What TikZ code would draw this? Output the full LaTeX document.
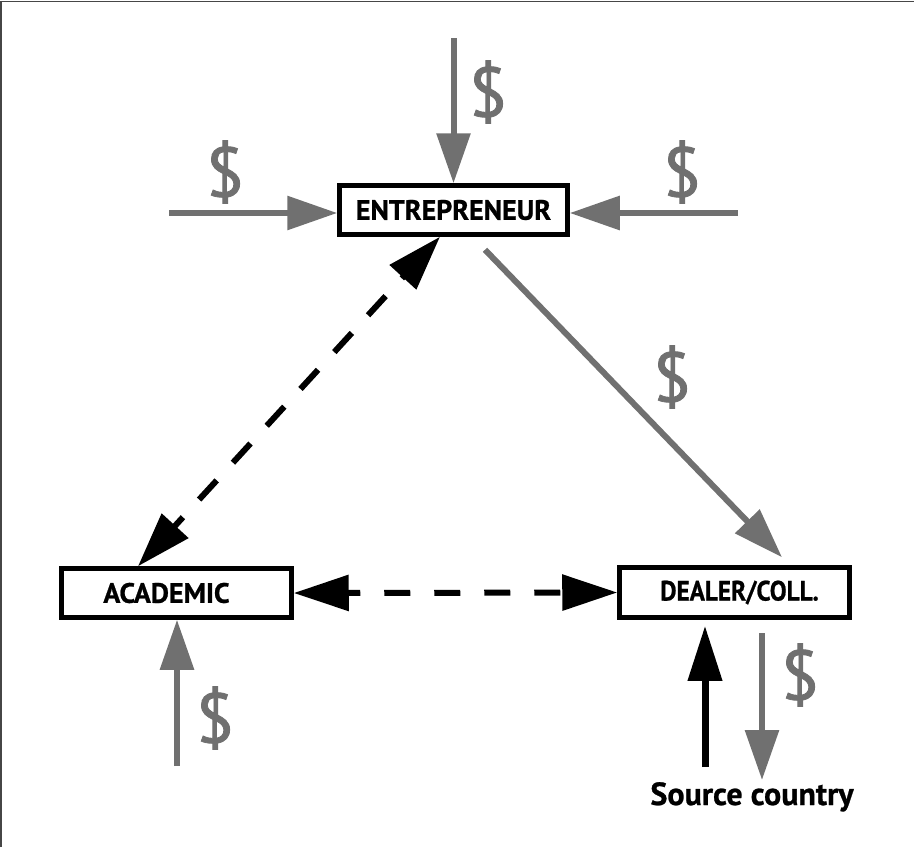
\documentclass[tikz,border=0pt]{standalone}
\usepackage{fontspec}
\usepackage{graphicx}
\setmainfont{PT Sans}
\newfontfamily\moneyfont[FakeBold=1.2]{PT Sans}
\newfontfamily\heavyfont[BoldFeatures={FakeBold=0.8}]{PT Sans}
\usetikzlibrary{arrows.meta}
\definecolor{mgray}{RGB}{112,112,112}
\definecolor{frame}{RGB}{70,70,70}
\begin{document}
\begin{tikzpicture}[x=1pt,y=-1pt,
  box/.style={draw=black, line width=4.5pt, fill=white, inner sep=0pt,
    minimum width=230pt, minimum height=49pt,
    font=\heavyfont\bfseries\fontsize{28}{28}\selectfont},
  money/.style={text=mgray, inner sep=0pt, font=\moneyfont\fontsize{70}{70}\selectfont},
  garrow/.style={draw=mgray, line width=6pt, -{Triangle[length=50pt,width=33pt]}},
  barrow/.style={draw=black, line width=7pt, -{Triangle[length=55pt,width=33pt]}},
  darrow/.style={draw=black, line width=6pt, dash pattern=on 26pt off 24pt, dash phase=13pt,
    {Triangle[length=55pt,width=35pt]}-{Triangle[length=55pt,width=35pt]}},
  lbl/.style={inner sep=0pt, font=\heavyfont\bfseries\fontsize{32}{32}\selectfont}]
\useasboundingbox (0,0) rectangle (914,847);
\coordinate (tl) at (1,1.5);
\coordinate (tr) at (914,1.5);
\coordinate (bl) at (1,847);
\draw[frame, line width=1.2pt] (bl) -- (tl) -- (tr);

\node[box, minimum width=228pt] (ent) at (453.5,210) {ENTREPRENEUR};
\node[box] (acad) at (176.5,593) {ACADEMIC\kern20pt\relax};
\node[box, minimum height=50pt] (dea) at (734.5,592.5) {\kern10pt\scalebox{0.9}[1]{DEALER/COLL.}};

% incoming money to entrepreneur
\coordinate (topin) at (453.5,38);
\coordinate (lin) at (169,213);
\coordinate (rin) at (738,213);
\draw[garrow] (topin) -- (ent.north);
\draw[garrow] (lin) -- (lin -| ent.west);
\draw[garrow] (rin) -- (rin -| ent.east);
\node[money] (d1) at (488,92) {\$};
\node[money] (d2) at (225,172) {\$};
\node[money] (d3) at (682,172) {\$};

% entrepreneur to dealer
\draw[garrow] ([shift={(31.5,13)}]ent.south) -- ([shift={(47.5,-8)}]dea.north);
\node[money] (d4) at (672,377) {\$};

% dashed relations
\draw[darrow] ([xshift=-38.5pt]acad.north) -- ([xshift=-13.5pt]ent.south);
\draw[darrow] (acad.east) -- (dea.west);

% academic money
\coordinate (ain) at (177,766);
\draw[garrow] (ain) -- (ain |- acad.south);
\node[money] (d5) at (215,718) {\$};

% dealer and source country
\node[lbl, anchor=base] (src) at (752,805) {Source country};
\coordinate (scup) at (705,767);
\draw[barrow] (scup) -- ([yshift=-6pt]scup |- dea.south);
\coordinate (sdown) at (762,780);
\draw[garrow] (sdown |- 0,633) -- (sdown);
\node[money] (d6) at (800,675) {\$};
\end{tikzpicture}
\end{document}
